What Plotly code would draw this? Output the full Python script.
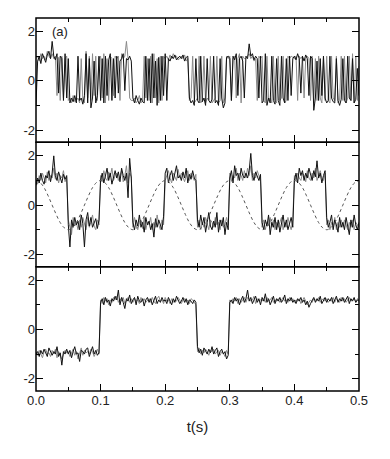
import plotly.graph_objects as go
from plotly.subplots import make_subplots

DT = 0.0025  # sampling step of the traces (s)

# ---- panel (a) top: noisy bistable signal ----
top_black = [
    -1.0,0.8,1.0,0.7,1.1,0.9,0.75,1.05,1.2,0.9,
    1.6,1.0,0.85,1.1,-0.5,1.0,0.9,-0.8,1.1,-0.7,
    0.9,-0.9,-0.7,-0.85,-0.6,-0.9,1.0,-0.8,-0.7,-0.95,
    -0.6,1.1,-0.9,0.9,-1.1,-0.7,0.8,-0.9,-0.6,1.0,
    -0.8,0.9,-0.9,1.0,-0.6,0.85,1.1,-0.8,0.9,-0.7,
    1.0,-0.5,0.8,0.9,1.1,-0.4,0.9,0.85,1.0,0.8,
    -0.7,-0.9,-0.6,-0.8,-0.95,-0.7,-0.85,-0.9,1.0,-0.8,
    0.9,-0.9,1.1,-0.7,0.8,-1.0,0.95,-0.8,1.0,-0.6,
    1.1,-0.8,0.9,0.8,1.0,0.9,1.05,0.85,0.95,1.0,
    0.9,1.05,0.8,0.95,1.0,-0.7,-0.9,-0.8,-1.0,0.9,
    -0.8,-0.9,1.0,-0.85,-0.7,-1.0,0.9,-0.8,-0.9,-0.75,
    1.0,-0.9,-0.8,-1.0,0.9,-0.7,-1.1,-0.9,0.95,1.0,
    0.9,-0.8,1.0,0.85,1.1,-0.6,0.9,1.0,0.8,-0.7,
    1.0,0.9,1.5,1.0,1.1,0.85,1.0,0.9,-0.7,1.0,
    -0.9,-0.8,1.1,-1.0,-0.7,-0.9,1.0,-0.8,-0.95,0.9,
    -0.8,-1.0,1.0,-0.7,-0.9,0.9,-0.8,1.0,-0.6,0.9,
    1.0,0.85,1.1,0.9,-0.5,1.0,0.8,1.05,0.9,-0.6,
    1.0,0.9,-1.2,-0.7,0.8,-0.8,0.9,-0.6,1.0,-0.7,
    -0.9,-0.8,1.0,-0.7,-0.85,-0.9,0.9,-0.8,-1.0,-0.75,
    0.9,-0.8,-0.9,1.0,-0.7,-0.8,0.9,-0.9,-0.75,0.5,
    -0.6]
top_gray = [
    0.9,1.0,0.8,1.1,0.9,1.0,0.85,1.2,1.0,0.9,
    1.1,0.9,1.0,-0.6,0.95,-0.8,1.0,-0.7,0.9,1.0,
    -0.8,-0.7,-0.9,-0.6,-0.85,-0.8,-0.7,-0.9,0.9,-0.8,
    -0.9,1.2,-0.7,1.0,-0.8,1.1,-0.6,1.0,-0.8,0.9,
    1.0,-0.7,1.1,-0.9,0.9,-0.8,1.0,0.9,-0.6,1.0,
    0.9,1.0,-0.8,1.1,0.9,1.0,1.6,0.9,-0.7,-0.8,
    -0.8,-0.7,-0.9,-0.8,-0.6,-0.9,-0.8,1.0,-0.7,0.9,
    -0.8,1.0,-0.9,1.1,-0.7,0.9,-0.9,1.0,-0.8,1.0,
    0.9,1.0,0.85,1.05,0.9,1.1,0.95,1.0,0.85,0.9,
    1.0,0.9,1.05,0.8,0.9,-0.8,-0.7,1.0,-0.9,-0.8,
    -0.7,1.0,-0.9,-0.8,1.0,-0.9,-0.7,-0.8,1.0,-0.9,
    -0.8,-0.7,1.0,-0.9,-0.8,1.0,-0.9,-0.7,1.0,0.9,
    1.0,-0.8,0.9,1.0,-0.7,0.9,1.1,-0.9,1.0,0.9,
    0.9,1.0,1.1,0.9,1.0,0.8,0.9,-0.8,1.0,0.9,
    1.0,-0.8,-0.9,1.0,-0.8,-0.7,-0.9,1.0,-0.8,-0.9,
    1.0,-0.8,-0.7,1.0,-0.9,-0.8,1.0,0.9,1.0,0.95,
    0.9,1.0,-0.8,1.0,0.9,1.0,-0.7,0.9,1.0,0.9,
    -0.8,1.0,-0.9,0.9,-0.8,1.0,-0.7,-0.9,1.0,-0.8,
    1.0,-0.8,-0.9,1.0,-0.7,-0.8,1.0,-0.9,-0.8,1.0,
    -0.8,1.0,-0.9,-0.7,1.0,-0.8,1.1,-0.9,1.0,-0.8,
    0.6]

# ---- middle panel: signal locked to periodic drive ----
mid_black = [
    0.8,1.1,0.9,1.3,1.0,0.85,1.2,1.1,1.4,0.95,
    1.3,2.0,1.2,1.0,1.35,1.1,0.9,1.25,1.05,1.2,
    -0.8,-1.7,-0.6,-0.9,-0.5,-0.8,-0.65,-1.0,-0.4,-0.75,
    -1.7,-0.6,-0.3,-0.85,-0.5,-0.9,-0.7,-0.55,-0.95,-0.6,
    1.0,1.3,0.9,1.2,1.5,1.0,1.3,0.85,1.15,1.4,
    1.1,1.35,0.95,1.5,1.2,1.0,1.3,0.3,1.9,1.1,
    -0.7,-1.0,-0.6,-0.85,-0.4,-0.9,-0.7,-1.1,-0.5,-0.8,
    -0.65,-1.0,-0.75,-1.3,-0.55,-0.9,-0.6,-0.8,-1.0,-0.45,
    1.3,1.5,0.9,1.2,1.4,1.0,1.3,1.6,1.1,1.2,
    1.0,1.35,1.1,1.5,0.9,1.25,1.05,1.4,1.1,1.0,
    -0.6,-0.9,-0.4,-0.8,-0.5,-1.1,-0.7,-0.3,-0.85,-1.0,
    -0.65,-0.9,-0.3,-1.1,-0.6,-0.85,-0.5,-1.2,-0.7,-1.0,
    1.1,1.4,0.9,1.6,1.2,1.3,1.0,1.5,1.2,1.1,
    1.3,1.1,1.4,2.1,1.2,1.0,1.35,1.2,1.0,1.25,
    -0.7,-1.0,-0.6,-0.85,-0.4,-1.2,-0.7,-0.9,-0.5,-1.0,
    -0.6,-1.1,-0.7,-0.4,-0.9,-0.6,-1.0,-0.75,-0.5,-0.9,
    1.0,1.3,0.9,1.5,1.2,1.4,1.0,1.3,1.1,1.5,
    1.2,1.0,1.4,1.15,1.8,1.1,1.3,0.9,1.2,1.4,
    -0.5,-0.9,-0.7,-0.4,-1.0,-0.6,-0.8,-1.1,-0.5,-0.9,
    -0.7,-1.0,-0.5,-0.8,-1.2,-0.6,-0.9,-0.4,-0.8,-1.0,
    -0.7]
mid_gray = [
    1.0,0.85,1.2,1.0,1.3,1.1,0.9,1.35,1.0,1.2,
    1.1,1.5,1.05,1.3,0.9,1.2,1.1,1.4,0.95,1.15,
    -0.6,-0.9,-1.2,-0.5,-0.85,-0.7,-1.0,-0.6,-0.9,-0.5,
    -0.8,-1.0,-0.5,-0.9,-0.7,-0.4,-0.85,-1.0,-0.6,-0.8,
    1.2,0.95,1.4,1.1,1.0,1.35,1.15,1.5,1.0,1.2,
    1.3,1.0,1.2,1.4,0.95,1.2,1.6,0.9,1.3,1.15,
    -0.9,-0.5,-0.8,-1.0,-0.7,-0.6,-0.95,-0.5,-1.0,-0.7,
    -0.8,-0.5,-1.0,-0.7,-0.9,-0.4,-0.8,-1.0,-0.6,-0.8,
    1.0,1.2,1.4,1.1,0.9,1.3,1.15,1.0,1.45,1.1,
    1.3,1.1,0.95,1.2,1.4,1.0,1.3,1.15,1.0,1.25,
    -0.9,-0.6,-1.0,-0.7,-0.9,-0.5,-0.8,-1.0,-0.6,-0.7,
    -0.9,-0.5,-0.8,-0.7,-1.0,-0.6,-0.9,-0.8,-0.5,-0.8,
    1.3,1.0,1.2,1.1,1.5,1.0,1.3,1.2,1.0,1.4,
    1.1,1.5,1.2,1.6,1.0,1.3,1.1,1.4,1.2,0.95,
    -0.9,-0.6,-1.0,-0.7,-0.8,-0.5,-0.9,-0.6,-1.0,-0.7,
    -0.9,-0.7,-0.5,-1.0,-0.7,-0.9,-0.5,-0.8,-1.0,-0.6,
    1.2,1.0,1.3,1.1,1.0,1.3,1.2,0.95,1.4,1.1,
    1.0,1.3,1.1,1.5,1.0,1.2,1.4,1.1,1.0,1.3,
    -0.8,-0.6,-1.0,-0.7,-0.9,-0.5,-1.0,-0.7,-0.9,-0.6,
    -0.9,-0.6,-0.8,-1.0,-0.7,-0.9,-0.6,-1.0,-0.7,-0.8,
    -0.9]

# periodic drive (dotted), read every 0.00625 s
DRIVE_DT = 0.00625
drive = [1.0,0.92,0.71,0.38,0.0,-0.38,-0.71,-0.92,
         -1.0,-0.92,-0.71,-0.38,0.0,0.38,0.71,0.92] * 5 + [1.0]

# ---- bottom panel: slow switching ----
bot_black = [
    -1.0,-0.9,-1.1,-0.85,-1.0,-0.8,-0.95,-1.1,-0.75,-0.9,
    -1.05,-0.9,-1.0,-0.7,-1.1,-0.95,-1.45,-0.9,-1.0,-0.8,
    -1.0,-0.85,-1.15,-0.9,-0.7,-1.0,-0.95,-1.3,-0.85,-0.9,
    -1.0,-0.8,-0.75,-1.1,-0.9,-0.7,-1.0,-0.85,-1.05,-0.95,
    1.1,1.25,1.0,1.3,1.1,1.2,0.95,1.25,1.15,1.35,
    1.2,1.6,1.0,1.3,1.1,0.85,1.25,1.15,1.4,1.05,
    1.2,1.3,1.0,1.35,1.15,1.1,1.25,0.95,1.2,1.3,
    1.1,1.25,1.0,1.2,1.35,1.05,1.2,1.1,1.3,1.15,
    1.2,1.05,1.3,1.15,1.0,1.25,1.1,1.35,1.2,1.05,
    1.15,1.3,1.1,1.25,1.0,1.2,1.15,1.05,1.2,1.1,
    -0.7,-0.95,-0.8,-1.05,-0.75,-0.9,-1.0,-0.8,-0.95,-0.7,
    -1.0,-0.85,-0.75,-1.1,-0.9,-0.8,-1.0,-0.9,-1.2,-1.05,
    1.1,1.2,1.05,1.3,1.15,1.25,1.0,1.2,1.35,1.1,
    1.25,1.6,1.15,1.3,1.05,1.2,1.35,1.1,1.25,1.0,
    1.3,1.15,1.45,1.1,1.25,1.0,1.2,1.35,1.05,1.25,
    1.15,1.3,1.1,1.2,1.4,1.05,1.25,1.15,1.3,1.1,
    1.2,1.05,1.25,1.15,1.3,1.1,1.2,1.0,1.15,0.9,
    1.05,1.2,1.3,1.1,1.25,1.15,1.35,1.05,1.2,1.3,
    1.1,1.25,1.15,1.3,1.05,1.2,1.35,1.1,1.25,1.15,
    1.3,1.1,1.2,1.35,1.05,1.25,1.15,1.3,1.1,1.2,
    1.15]
bot_gray = [
    -0.9,-1.05,-0.85,-1.0,-1.15,-0.9,-0.8,-1.0,-0.95,-1.1,
    -0.85,-1.0,-0.8,-1.15,-0.9,-1.05,-1.2,-1.0,-0.85,-0.95,
    -0.9,-1.1,-0.95,-0.8,-1.05,-0.9,-1.2,-1.0,-0.75,-1.05,
    -0.85,-0.95,-0.9,-1.0,-0.8,-0.9,-1.1,-0.95,-0.8,-1.0,
    1.2,1.05,1.3,1.15,1.25,1.0,1.2,1.1,1.3,1.2,
    1.35,1.1,1.25,1.15,1.3,1.05,1.2,1.3,1.1,1.25,
    1.1,1.25,1.15,1.2,1.05,1.3,1.15,1.25,1.1,1.2,
    1.25,1.1,1.3,1.15,1.05,1.25,1.35,1.15,1.2,1.05,
    1.3,1.15,1.2,1.05,1.25,1.1,1.2,1.15,1.3,1.2,
    1.05,1.2,1.25,1.1,1.2,1.05,1.25,1.2,1.1,1.0,
    -0.9,-0.75,-1.0,-0.85,-0.95,-0.8,-0.9,-1.05,-0.85,-0.9,
    -0.8,-1.0,-0.9,-0.85,-1.05,-0.9,-0.95,-1.1,-0.85,-1.0,
    1.2,1.1,1.25,1.15,1.3,1.05,1.25,1.1,1.2,1.3,
    1.1,1.3,1.25,1.15,1.2,1.35,1.05,1.25,1.15,1.2,
    1.15,1.25,1.1,1.3,1.15,1.2,1.3,1.1,1.2,1.15,
    1.25,1.1,1.2,1.3,1.15,1.2,1.1,1.3,1.15,1.25,
    1.1,1.2,1.15,1.25,1.05,1.2,1.3,1.15,1.0,1.1,
    1.2,1.1,1.25,1.2,1.15,1.3,1.1,1.2,1.25,1.15,
    1.25,1.1,1.2,1.15,1.3,1.1,1.25,1.2,1.1,1.3,
    1.15,1.25,1.1,1.2,1.3,1.15,1.2,1.25,1.1,1.25,
    1.2]

x_tickvals = [0.0, 0.1, 0.2, 0.3, 0.4, 0.5]
x_ticktext = ["0.0", "0.1", "0.2", "0.3", "0.4", "0.5"]
y_tickvals = [-2, 0, 2]
y_ticktext = ["-2", "0", "2"]


def times(n, dt):
    return [round(i * dt, 6) for i in range(n)]


fig = make_subplots(rows=3, cols=1, shared_xaxes=True, vertical_spacing=0)

GRAY = "#8a8a8a"
BLACK = "#111111"
panels = [(top_gray, top_black), (mid_gray, mid_black), (bot_gray, bot_black)]
for r, (g, k) in enumerate(panels, start=1):
    fig.add_trace(go.Scatter(x=times(len(g), DT), y=g, mode="lines",
                             line=dict(color=GRAY, width=1), showlegend=False),
                  row=r, col=1)
    fig.add_trace(go.Scatter(x=times(len(k), DT), y=k, mode="lines",
                             line=dict(color=BLACK, width=1), showlegend=False),
                  row=r, col=1)

fig.add_trace(go.Scatter(x=times(len(drive), DRIVE_DT), y=drive, mode="lines",
                         line=dict(color="#555555", width=1, dash="dot",
                                   shape="spline", smoothing=1.0),
                         showlegend=False), row=2, col=1)

FONT = "Liberation Sans, Arial, sans-serif"
for r in range(1, 4):
    fig.update_xaxes(range=[0, 0.5], tickvals=x_tickvals, ticktext=x_ticktext,
                     showticklabels=(r == 3), ticks="inside", ticklen=7,
                     tickwidth=1.3, tickcolor="black",
                     minor=dict(ticks="inside", ticklen=4, dtick=0.05, tick0=0,
                                tickcolor="black", tickwidth=1),
                     showline=False, mirror="allticks", showgrid=False,
                     zeroline=False,
                     tickfont=dict(family=FONT, size=13, color="#222"),
                     row=r, col=1)
    fig.update_yaxes(range=[-2.5, 2.55], tickvals=y_tickvals, ticktext=y_ticktext,
                     ticks="inside", ticklen=7, tickwidth=1.3, tickcolor="black",
                     minor=dict(ticks="inside", ticklen=4, dtick=1, tick0=0,
                                tickcolor="black", tickwidth=1),
                     showline=False, mirror="allticks", showgrid=False,
                     zeroline=False,
                     tickfont=dict(family=FONT, size=13, color="#222"),
                     row=r, col=1)
    # frame of each panel (shared borders overlap exactly)
    xr = "x domain" if r == 1 else f"x{r} domain"
    yr = "y domain" if r == 1 else f"y{r} domain"
    fig.add_shape(type="rect", xref=xr, yref=yr, x0=0, x1=1, y0=0, y1=1,
                  line=dict(color="black", width=1.5), layer="above")

fig.update_xaxes(title=dict(text="t(s)", font=dict(family=FONT, size=15, color="#222"),
                            standoff=14), row=3, col=1)

fig.add_annotation(text="(a)", xref="x", yref="y", x=0.022, y=2.0,
                   xanchor="left", yanchor="middle", showarrow=False,
                   font=dict(family=FONT, size=13, color="#222"))

fig.update_layout(width=390, height=459,
                  margin=dict(l=36, r=31, t=18, b=68),
                  plot_bgcolor="white", paper_bgcolor="white")

fig.write_html("out.html", config={"displayModeBar": False},
               post_script="document.body.style.margin='0';")
